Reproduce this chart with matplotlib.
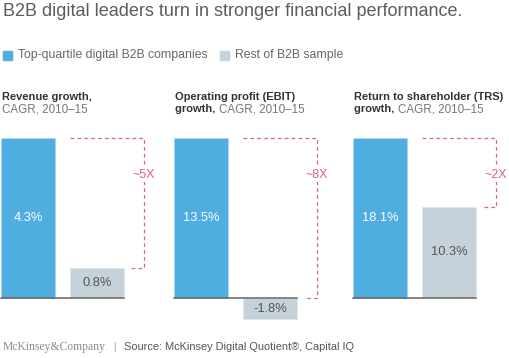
import numpy as np
import matplotlib.pyplot as plt

# dados
painel_l1 = ["Revenue growth,", "Operating profit (EBIT)", "Return to shareholder (TRS)"]
painel_l2_bold = ["", "growth, ", "growth, "]
painel_l2 = ["CAGR, 2010\u201315", "CAGR, 2010\u201315", "CAGR, 2010\u201315"]
lideres = [4.3, 13.5, 18.1]
restante = [0.8, -1.8, 10.3]
multiplos = ["~5X", "~8X", "~2X"]
serie_nomes = ["Top-quartile digital B2B companies", "Rest of B2B sample"]

AZUL = "#4fade0"
CINZA = "#c5d2d9"
ROSA = "#de5c9c"
TXT = "#555555"

plt.rcParams['font.family'] = ['Liberation Sans', 'DejaVu Sans']

W, H = 510, 358
fig = plt.figure(figsize=(W / 100, H / 100), dpi=100)

def fx(px):
    return px / W

def fy(py):
    return 1 - py / H

# título e legenda
fig.text(fx(3), fy(12), "B2B digital leaders turn in stronger financial performance.",
         fontsize=13, color="#5c5c5c", va="center", ha="left")
for lx, cor, nome in [(3, AZUL, serie_nomes[0]), (220, CINZA, serie_nomes[1])]:
    fig.patches.append(plt.Rectangle((fx(lx), fy(60)), fx(9), 9 / H, color=cor,
                                     transform=fig.transFigure, figure=fig))
    fig.text(fx(lx + 15), fy(55), nome, fontsize=8.8, color="#666666", va="center")

centros = [28, 201, 380]
largura = 0.77
topo, base, fundo = 138, 298, 330

for i in range(3):
    esq = centros[i] - 0.4 * 69
    ax = fig.add_axes([fx(esq), fy(fundo), 2.2 * 69 / W, (fundo - topo) / H])
    v = lideres[i]
    ax.set_xlim(-0.4, 1.8)
    ax.set_ylim(-0.2 * v, v)
    ax.axis('off')

    ax.bar([0], [lideres[i]], width=largura, color=AZUL, edgecolor="#a9d6ef", linewidth=0.6)
    ax.bar([1], [restante[i]], width=largura, color=CINZA, edgecolor="#dde6eb", linewidth=0.6)
    ax.plot([-largura / 2, 1 + largura / 2], [0, 0], color="#666666", lw=1.1)

    ax.text(0, lideres[i] / 2, f"{lideres[i]:.1f}%", color="white", fontsize=9.3,
            ha="center", va="center")
    ax.text(1, restante[i] / 2, f"{restante[i]:.1f}%", color=TXT, fontsize=9.3,
            ha="center", va="center")

    # colchete tracejado
    xv = 1.68
    y_fim = max(restante[i], 0)
    ax.plot([1 - largura / 2, xv, xv, 1.5], [v, v, y_fim, y_fim], color=ROSA,
            lw=0.9, ls=(0, (3, 2.5)), clip_on=False)
    ax.text(xv, 0.77 * v, multiplos[i], color=ROSA, fontsize=9, ha="center", va="center",
            bbox=dict(facecolor="white", edgecolor="none", pad=1))

    # títulos dos painéis
    fig.text(fx(esq + 2), fy(97), painel_l1[i], fontsize=8.0, fontweight="bold",
             color="#333333", va="center")
    t = fig.text(fx(esq + 2), fy(109), painel_l2_bold[i], fontsize=8.0, fontweight="bold",
                 color="#333333", va="center")
    r = fig.canvas.get_renderer()
    larg = t.get_window_extent(r).width if painel_l2_bold[i] else 0
    fig.text(fx(esq + 2 + larg), fy(109), painel_l2[i], fontsize=8.4,
             color="#777777", va="center")

# rodapé
fig.text(fx(3), fy(347), "McKinsey&Company", family=['Liberation Serif', 'DejaVu Serif'],
         fontsize=8.4, color="#8a8a8a", va="center")
fig.text(fx(113), fy(347), "|", fontsize=7.5, color="#aaaaaa", va="center")
fig.text(fx(124), fy(347), "Source: McKinsey Digital Quotient\u00ae, Capital IQ",
         fontsize=7.9, color="#555555", va="center")

fig.savefig("out.png", dpi=100)
